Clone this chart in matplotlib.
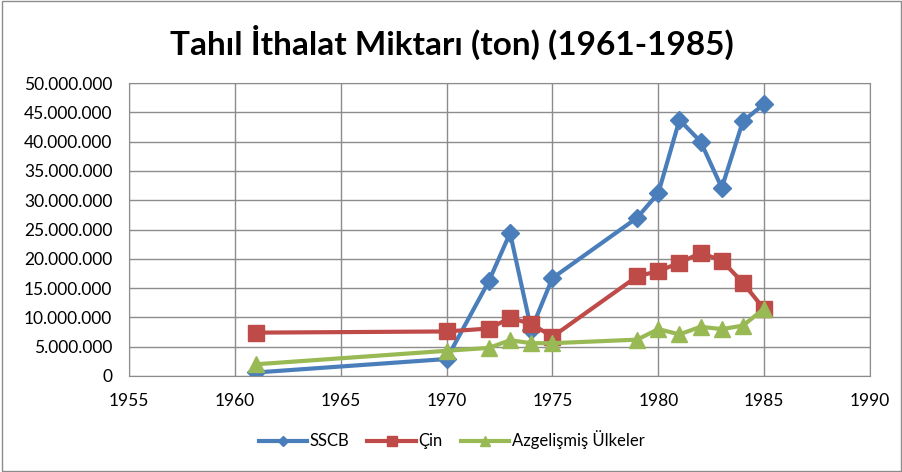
import matplotlib.pyplot as plt
from matplotlib.ticker import FuncFormatter
from matplotlib.patches import Rectangle

years = [1961, 1970, 1972, 1973, 1974, 1975, 1979, 1980, 1981, 1982, 1983, 1984, 1985]
sscb = [0.6, 2.9, 16.2, 24.4, 7.9, 16.7, 27.0, 31.2, 43.7, 40.0, 32.1, 43.5, 46.4]
cin = [7.4, 7.6, 8.1, 9.9, 8.9, 6.7, 17.0, 17.9, 19.3, 21.0, 19.7, 15.9, 11.4]
azgelismis = [2.0, 4.3, 4.8, 6.1, 5.6, 5.6, 6.2, 8.0, 7.1, 8.4, 8.0, 8.6, 11.5]

plt.rcParams['font.family'] = ['Lato', 'DejaVu Sans']

fig = plt.figure(figsize=(9.03, 4.72), dpi=100)
ax = fig.add_axes([129 / 903, 1 - 376 / 472, (870 - 129) / 903, (376 - 83) / 472])

def to_ton(vals):
    return [v * 1e6 for v in vals]

ax.plot(years, to_ton(sscb), color='#4A7EBB', lw=3, marker='D', ms=9, label='SSCB')
ax.plot(years, to_ton(cin), color='#BE4B48', lw=3, marker='s', ms=11, label='Çin')
ax.plot(years, to_ton(azgelismis), color='#98B954', lw=3, marker='^', ms=11,
        label='Azgelişmiş Ülkeler')

ax.set_xlim(1955, 1990)
ax.set_ylim(0, 50e6)
ax.set_xticks(range(1955, 1991, 5))
ax.set_yticks([i * 5e6 for i in range(11)])
ax.yaxis.set_major_formatter(FuncFormatter(lambda v, p: '{:,.0f}'.format(v).replace(',', '.')))
ax.grid(True, color='#8c8c8c', lw=1)
ax.set_axisbelow(True)
for s in ax.spines.values():
    s.set_color('#8c8c8c')
ax.tick_params(length=0, labelsize=12.5)
ax.tick_params(axis='y', pad=12)
ax.tick_params(axis='x', pad=12)

fig.text(0.5, 1 - 42 / 472, 'Tahıl İthalat Miktarı (ton) (1961-1985)', ha='center', va='center',
         fontsize=24, fontweight='bold')

fig.legend(loc='center', bbox_to_anchor=(0.5, 1 - 440 / 472), ncol=3, frameon=False,
           fontsize=12, handlelength=2.9, markerscale=0.6, columnspacing=1.1, handletextpad=0.15)

fig.patches.append(Rectangle((0.002, 0.003), 0.996, 0.994, transform=fig.transFigure,
                             fill=False, edgecolor='#8c8c8c', lw=1))

fig.savefig('out.png', dpi=100)
